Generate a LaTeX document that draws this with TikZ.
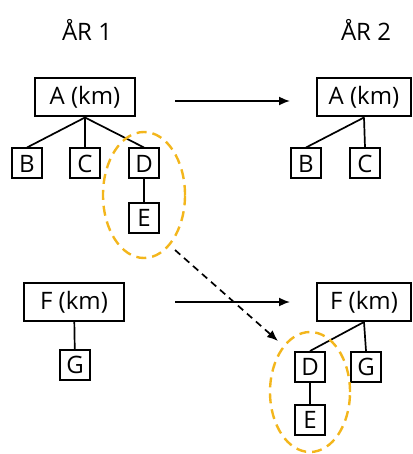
\documentclass[tikz,border=0pt]{standalone}
\usepackage{fontspec}
\setmainfont{Open Sans}
\usetikzlibrary{positioning,arrows.meta,shapes.geometric}
\definecolor{gold}{RGB}{243,182,28}
\tikzset{
headbox/.style={
  draw=black,
  line width=2pt,
  minimum width=100pt,
  minimum height=38pt,
  inner sep=0pt,
  font=\fontsize{24}{26}\selectfont
  },
leafbox/.style={
  draw=black,
  line width=2pt,
  minimum width=30pt,
  minimum height=30pt,
  inner sep=0pt,
  font=\fontsize{24}{26}\selectfont
  },
link/.style={line width=1.7pt},
group/.style={ellipse,draw=gold,line width=2.4pt,dash pattern=on 10pt off 6pt}
}

\begin{document}
\begin{tikzpicture}[x=1pt,y=-1pt,>={Latex[length=11pt,width=9pt]}]
\useasboundingbox (0,0) rectangle (412,454);
% year titles
\node[font=\fontsize{24}{26}\selectfont] (yr1) at (87,30) {ÅR 1};
\node[font=\fontsize{24}{26}\selectfont] (yr2) at (366,30) {ÅR 2};
% year 1
\node[headbox] (a1) at (85,97.5) {A (km)};
\node[leafbox] (b1) at (27,163.5) {B};
\node[leafbox] (c1) at (85,163.5) {C};
\node[leafbox] (d1) at (144,163.5) {D};
\node[leafbox] (e1) at (144,217.5) {E};
\draw[link] (a1.south) -- (b1.north);
\draw[link] (a1.south) -- (c1.north);
\draw[link] (a1.south) -- (d1.north);
\draw[link] (d1) -- (e1);
\node[group,minimum width=82pt,minimum height=126pt] (grp1) at (144,195) {};

\node[headbox] (f1) at (74,302) {F (km)};
\node[leafbox] (g1) at (75,365) {G};
\draw[link] (f1) -- (g1);
% year 2
\node[headbox,minimum width=94pt] (a2) at (364,97.5) {A (km)};
\node[leafbox] (b2) at (306,163.5) {B};
\node[leafbox] (c2) at (365,163.5) {C};
\draw[link] (a2.south) -- (b2.north);
\draw[link] (a2.south) -- (c2.north);

\node[headbox,minimum width=94pt] (f2) at (364,302) {F (km)};
\node[leafbox] (d2) at (310,367) {D};
\node[leafbox] (g2) at (366,367) {G};
\node[leafbox] (e2) at (310,420) {E};
\draw[link] (f2.south) -- (d2.north);
\draw[link] (f2.south) -- (g2.north);
\draw[link] (d2) -- (e2);
\node[group,minimum width=80pt,minimum height=120pt] (grp2) at (310,392) {};
% changes between years
\coordinate (s1) at (175,101);
\coordinate (t1) at (290,101);
\coordinate (s2) at (175,302);
\coordinate (t2) at (290,302);
\coordinate (s3) at (175,250);
\coordinate (t3) at (278,341);
\draw[->,line width=1.7pt] (s1) -- (t1);
\draw[->,line width=1.7pt] (s2) -- (t2);
\draw[->,line width=1.7pt,dash pattern=on 7pt off 5pt] (s3) -- (t3);
\end{tikzpicture}
\end{document}
